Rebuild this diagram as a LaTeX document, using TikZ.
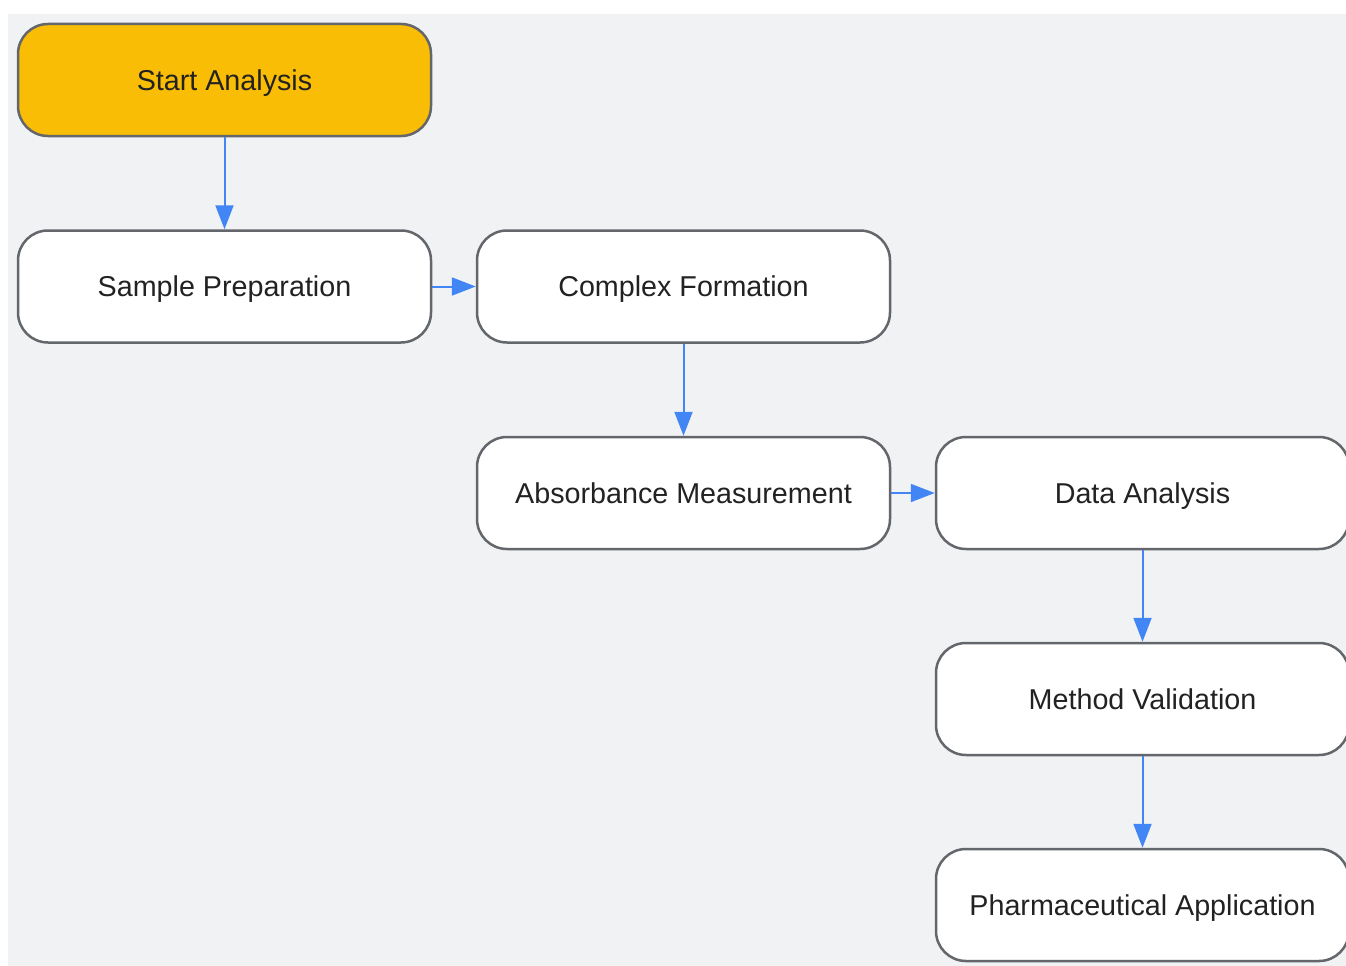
\documentclass[tikz,border=0pt]{standalone}
\usepackage{fontspec}
\setmainfont{Liberation Sans}
\usetikzlibrary{arrows.meta}
\definecolor{bggray}{HTML}{F1F2F4}
\definecolor{bordergray}{HTML}{63666B}
\definecolor{startyellow}{HTML}{FABD05}
\definecolor{arrowblue}{HTML}{4285F4}
\definecolor{txt}{HTML}{222222}
\tikzset{
  box/.style={draw=bordergray, line width=2.5pt, fill=white, rounded corners=30pt,
    minimum width=413pt, minimum height=112pt, inner sep=0pt,
    text height=20.6pt, text depth=0pt,
    font=\fontsize{28.7}{34}\selectfont, text=txt},
  startbox/.style={box, fill=startyellow},
  conn/.style={draw=arrowblue, line width=2pt, -{Triangle[length=24pt,width=18pt]}}
}
\begin{document}
\begin{tikzpicture}[x=1pt,y=-1pt]
\useasboundingbox (0,0) rectangle (1346,966);
\fill[white] (0,0) rectangle (1346,966);
\fill[bggray] (8,14) rectangle (1346,966);
\node[startbox] (start) at (224.5,80) {Start Analysis};
\node[box] (sample) at (224.5,286.5) {Sample Preparation};
\node[box] (complex) at (683.5,286.5) {Complex Formation};
\node[box] (absorb) at (683.5,493) {Absorbance Measurement};
\node[box] (data) at (1142.5,493) {Data Analysis};
\node[box] (method) at (1142.5,699) {Method Validation};
\node[box] (pharma) at (1142.5,905) {Pharmaceutical Application};
\draw[conn] (start) -- (sample);
\draw[conn] (sample) -- (complex);
\draw[conn] (complex) -- (absorb);
\draw[conn] (absorb) -- (data);
\draw[conn] (data) -- (method);
\draw[conn] (method) -- (pharma);
\end{tikzpicture}
\end{document}
